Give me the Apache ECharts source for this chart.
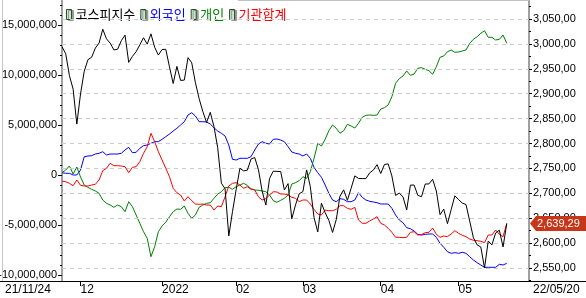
<!DOCTYPE html>
<html><head><meta charset="utf-8">
<script src="https://cdn.jsdelivr.net/npm/echarts@6/dist/echarts.min.js"></script>
<style>html,body{margin:0;padding:0;background:#fff}#c{width:586px;height:298px}</style>
</head><body><div id="c"></div>
<script>
const dates = [
'21/11/24','21/11/25','21/11/26','21/11/29','21/11/30',
'21/12/01','21/12/02','21/12/03','21/12/06','21/12/07','21/12/08','21/12/09','21/12/10','21/12/13','21/12/14','21/12/15','21/12/16','21/12/17','21/12/20','21/12/21','21/12/22','21/12/23','21/12/24','21/12/27','21/12/28','21/12/29','21/12/30',
'22/01/03','22/01/04','22/01/05','22/01/06','22/01/07','22/01/10','22/01/11','22/01/12','22/01/13','22/01/14','22/01/17','22/01/18','22/01/19','22/01/20','22/01/21','22/01/24','22/01/25','22/01/26','22/01/27','22/01/28',
'22/02/03','22/02/04','22/02/07','22/02/08','22/02/09','22/02/10','22/02/11','22/02/14','22/02/15','22/02/16','22/02/17','22/02/18','22/02/21','22/02/22','22/02/23','22/02/24','22/02/25','22/02/28',
'22/03/02','22/03/03','22/03/04','22/03/07','22/03/08','22/03/10','22/03/11','22/03/14','22/03/15','22/03/16','22/03/17','22/03/18','22/03/21','22/03/22','22/03/23','22/03/24','22/03/25','22/03/28','22/03/29','22/03/30','22/03/31',
'22/04/01','22/04/04','22/04/05','22/04/06','22/04/07','22/04/08','22/04/11','22/04/12','22/04/13','22/04/14','22/04/15','22/04/18','22/04/19','22/04/20','22/04/21','22/04/22','22/04/25','22/04/26','22/04/27','22/04/28','22/04/29',
'22/05/02','22/05/03','22/05/04','22/05/06','22/05/09','22/05/10','22/05/11','22/05/12','22/05/13','22/05/16','22/05/17','22/05/18','22/05/19','22/05/20'
];
const emptySlotsAfter = 6;
const monthTickDates = ['21/12/01','22/01/03','22/02/03','22/03/02','22/04/01','22/05/02'];
const monthTickLabels = ['12','2022','02','03','04','05'];
const edgeLabels = ['21/11/24','22/05/20'];
const leftLabelValues = [-10000000,-5000000,0,5000000,10000000,15000000];
const leftMinorValues = [-10000000,-9000000,-8000000,-7000000,-6000000,-5000000,-4000000,-3000000,-2000000,-1000000,0,1000000,2000000,3000000,4000000,5000000,6000000,7000000,8000000,9000000,10000000,11000000,12000000,13000000,14000000,15000000,16000000,17000000];
const rightLabelValues = [2550,2600,2650,2700,2750,2800,2850,2900,2950,3000,3050];
const rightMinorValues = [2525,2575,2625,2675,2725,2775,2825,2875,2925,2975,3025,3075];
const seriesNames = ['코스피지수','외국인','개인','기관합계'];

const kospi = [
2994.29,2980.27,2936.44,2909.32,2839.01,
2899.72,2945.27,2968.33,2973.25,2991.72,3001.80,3029.57,3010.23,3001.66,2987.95,2989.39,3006.41,3017.73,2963.00,2975.03,2984.48,2998.32,3012.43,2999.55,3020.24,2993.29,2977.65,
2988.77,2989.24,2953.97,2920.53,2954.89,2926.72,2927.38,2972.48,2962.09,2921.92,2890.10,2864.24,2842.28,2862.68,2834.29,2792.00,2720.39,2709.24,2614.49,2663.34,
2707.82,2750.26,2745.06,2746.47,2768.85,2771.93,2747.71,2704.48,2676.54,2729.68,2744.52,2744.09,2743.80,2706.79,2719.53,2648.80,2676.76,2699.18,
2703.52,2747.08,2713.43,2651.31,2622.40,2680.32,2661.28,2645.65,2621.53,2647.38,2694.51,2707.02,2686.05,2710.00,2735.05,2729.98,2729.66,2729.56,2741.07,2746.74,2757.65,
2739.85,2757.90,2759.20,2735.03,2695.86,2700.39,2693.10,2666.76,2716.49,2716.71,2696.06,2693.21,2718.69,2718.89,2728.21,2704.71,2657.13,2668.31,2639.06,2667.49,2695.05,
2687.45,2680.46,2677.57,2644.51,2610.81,2596.56,2592.27,2550.08,2604.24,2596.58,2620.44,2625.98,2592.34,2639.29
];
// cumulative net buying, in millions (x 1,000,000)
const foreign = [
0.23,0.17,0.17,0.0,0.0,
0.5,1.83,1.9,1.93,2.1,2.17,2.33,2.0,2.1,2.1,2.1,2.17,2.5,2.77,2.23,2.27,2.67,2.93,3.0,3.17,3.33,3.33,
3.57,3.83,4.1,4.4,4.67,5.0,5.33,6.0,6.23,5.9,5.33,5.33,5.3,5.1,4.73,4.4,4.17,3.9,3.0,1.57,
1.5,1.67,1.67,1.67,1.83,2.5,3.1,3.33,3.17,3.1,3.57,3.6,3.5,3.33,2.83,2.3,2.17,2.1,
1.9,2.1,1.67,0.77,0.23,-0.23,-1.0,-1.83,-2.5,-2.67,-2.37,-2.43,-2.67,-2.67,-2.5,-1.77,-2.23,-2.5,-2.63,-2.7,-2.77,
-2.9,-2.9,-2.9,-3.33,-4.0,-4.5,-4.77,-5.27,-5.37,-5.6,-5.93,-6.0,-5.93,-5.9,-5.9,-6.23,-6.83,-7.23,-7.67,-7.83,-7.77,
-7.83,-7.73,-7.83,-8.17,-8.5,-8.77,-9.0,-9.23,-9.23,-9.23,-9.23,-8.93,-9.0,-8.83
];
const individual = [
0.23,0.5,0.9,0.1,0.8,
-0.2,-1.0,-1.23,-1.43,-1.6,-1.83,-2.5,-2.83,-3.0,-3.23,-3.0,-3.17,-3.67,-2.67,-3.17,-4.0,-4.83,-5.67,-6.33,-8.17,-7.17,-5.67,
-5.1,-4.73,-4.17,-3.67,-3.4,-3.43,-3.1,-3.83,-4.33,-4.0,-3.23,-3.0,-2.83,-2.77,-2.33,-1.93,-1.67,-1.27,-1.23,-1.43,
-1.17,-1.0,-0.83,-1.03,-1.37,-1.5,-1.53,-1.6,-1.67,-2.0,-2.57,-2.73,-2.53,-2.33,-2.0,-0.9,-0.77,-0.57,
-0.17,-0.33,0.33,1.67,3.17,2.9,3.57,4.43,5.0,4.67,4.17,4.43,5.07,4.9,4.7,5.17,5.77,5.97,6.0,5.97,6.0,
6.6,6.73,7.0,7.83,9.17,9.63,9.9,10.4,9.97,10.1,10.67,10.73,10.57,10.43,10.07,10.83,11.77,11.9,12.33,12.5,12.27,
12.3,12.4,12.5,13.17,13.57,13.83,14.17,14.43,13.77,13.77,13.5,13.57,14.0,13.17
];
const institution = [
-0.6,-0.67,-0.83,-1.07,-0.5,
-1.03,-1.1,-1.1,-1.0,-0.93,-0.5,0.43,0.67,1.17,0.93,0.93,0.9,0.83,0.23,0.77,0.83,1.33,2.17,2.83,4.17,3.33,2.33,
1.5,0.67,-0.17,-1.33,-1.77,-2.0,-2.6,-2.17,-2.57,-2.9,-2.93,-2.9,-3.0,-3.0,-3.5,-3.1,-3.17,-2.17,-1.1,-0.83,
-0.77,-1.0,-1.33,-1.17,-1.43,-1.5,-2.17,-2.5,-2.37,-2.0,-1.67,-1.7,-1.9,-1.9,-2.0,-2.23,-2.33,-2.67,
-2.5,-2.5,-2.9,-3.43,-3.9,-4.0,-3.5,-3.57,-3.57,-3.43,-3.07,-3.07,-3.33,-3.43,-3.23,-4.5,-4.83,-4.83,-4.6,-4.4,-4.17,
-4.83,-5.0,-5.33,-5.73,-6.23,-6.23,-6.27,-6.23,-5.73,-5.67,-6.0,-5.97,-5.77,-5.73,-5.3,-5.93,-6.23,-6.1,-6.17,-5.9,-5.57,
-5.83,-6.03,-6.17,-6.4,-6.53,-6.57,-6.63,-6.77,-6.0,-6.0,-5.5,-5.93,-6.17,-4.83
];
const UNIT = 1000000;

const FONT = "'Liberation Sans',Arial,sans-serif";
const KR = "'Noto Sans CJK KR','Noto Sans CJK SC',sans-serif";

const categories = dates.concat(new Array(emptySlotsAfter).fill(''));
const tickIdx = {};
monthTickDates.forEach((d, k) => { tickIdx[dates.indexOf(d)] = monthTickLabels[k]; });
const isTick = (i) => tickIdx[i] !== undefined;

function fmtThousands(s){ return s.replace(/\B(?=(\d{3})+(?!\d))/g, ','); }
function fmtLeft(v){ const neg = v < 0; const s = fmtThousands(String(Math.abs(Math.round(v)))); return (neg ? '-' : '') + s; }
function fmtRight(v){ const p = v.toFixed(2).split('.'); return fmtThousands(p[0]) + ',' + p[1]; }

const chart = echarts.init(document.getElementById('c'), null, {renderer: 'canvas'});
const scale = (arr) => arr.map(v => v * UNIT);

const option = {
  animation: false,
  backgroundColor: '#fff',
  grid: {left: 62, right: 57, top: 0, bottom: 17, containLabel: false, outerBoundsMode: 'none'},
  legend: {
    left: 61, top: 3, itemWidth: 5, itemHeight: 10, itemGap: 5, icon: 'rect',
    selectedMode: false,
    itemStyle: {color: '#c4ecc4', borderColor: '#2e4a2e', borderWidth: 1, shadowColor: '#9a9a9a', shadowOffsetX: 2, shadowOffsetY: 1, shadowBlur: 0},
    textStyle: {fontSize: 13, fontFamily: KR, padding: [0, 0, 0, -1]},
    data: [
      {name: seriesNames[0], textStyle: {color: '#000'}},
      {name: seriesNames[1], textStyle: {color: '#0000ff'}},
      {name: seriesNames[2], textStyle: {color: '#008000'}},
      {name: seriesNames[3], textStyle: {color: '#ff0000'}}
    ]
  },
  xAxis: {
    type: 'category', data: categories, boundaryGap: false,
    axisLine: {show: true, onZero: false, lineStyle: {color: '#000', width: 1}},
    axisTick: {show: true, interval: (i) => isTick(i), length: 5, lineStyle: {color: '#000'}},
    axisLabel: {interval: (i) => isTick(i), formatter: (v, i) => tickIdx[i] || '', align: 'left', margin: 3,
      fontSize: 12, fontFamily: FONT, color: '#000', hideOverlap: false},
    splitLine: {show: false}
  },
  yAxis: [
    {type: 'value', position: 'left', min: -10600000, max: 17500000,
      axisLine: {show: true, lineStyle: {color: '#a0a0a0', width: 2}},
      axisTick: {show: true, customValues: leftLabelValues, length: 4, lineStyle: {color: '#000'}},
      axisLabel: {customValues: leftLabelValues, formatter: fmtLeft, margin: 5, fontSize: 11, fontFamily: FONT, color: '#000'},
      splitLine: {show: false}},
    {type: 'value', position: 'right', min: 2524, max: 3088.2,
      axisLine: {show: true, lineStyle: {color: '#a0a0a0', width: 2}},
      axisTick: {show: true, customValues: rightLabelValues, length: 3, lineStyle: {color: '#000'}},
      axisLabel: {customValues: rightLabelValues, formatter: fmtRight, margin: 4, fontSize: 11, fontFamily: FONT, color: '#000'},
      splitLine: {show: false}},
    {type: 'value', position: 'left', min: -10600000, max: 17500000,
      axisLine: {show: false},
      axisTick: {show: true, customValues: leftMinorValues, length: 2, lineStyle: {color: '#000'}},
      axisLabel: {show: false}, splitLine: {show: false}},
    {type: 'value', position: 'right', min: 2524, max: 3088.2,
      axisLine: {show: false},
      axisTick: {show: true, customValues: rightMinorValues, length: 2, lineStyle: {color: '#000'}},
      axisLabel: {show: false}, splitLine: {show: false}}
  ],
  series: [
    {name: 'grid-lines', type: 'line', yAxisIndex: 1, data: [], z: 1, silent: true,
      markLine: {silent: true, symbol: 'none', label: {show: false}, animation: false,
        lineStyle: {color: '#cccccc', type: [4, 4], width: 1},
        emphasis: {disabled: true},
        data: rightLabelValues.map(v => ({yAxis: v}))}},
    {name: seriesNames[0], type: 'line', yAxisIndex: 1, data: kospi, showSymbol: false, z: 6,
      lineStyle: {color: '#000', width: 1}, itemStyle: {color: '#000'}},
    {name: seriesNames[1], type: 'line', yAxisIndex: 0, data: scale(foreign), showSymbol: false, z: 3,
      lineStyle: {color: '#0000ff', width: 1}, itemStyle: {color: '#0000ff'}},
    {name: seriesNames[2], type: 'line', yAxisIndex: 0, data: scale(individual), showSymbol: false, z: 4,
      lineStyle: {color: '#008000', width: 1}, itemStyle: {color: '#008000'}},
    {name: seriesNames[3], type: 'line', yAxisIndex: 0, data: scale(institution), showSymbol: false, z: 5,
      lineStyle: {color: '#ff0000', width: 1}, itemStyle: {color: '#ff0000'}}
  ]
};
chart.setOption(option);

// annotations built from the library's scales
const last = kospi[kospi.length - 1];
const py = chart.convertToPixel({yAxisIndex: 1}, last);
const axisX = chart.convertToPixel({xAxisIndex: 0}, categories.length - 1);
const baseY = chart.convertToPixel({yAxisIndex: 0}, -10600000);
const topY = chart.convertToPixel({yAxisIndex: 0}, 17500000);
const W = chart.getWidth();
chart.setOption({
  graphic: [
    {type: 'line', shape: {x1: 2.5, y1: topY, x2: 2.5, y2: baseY}, style: {stroke: '#c8c8c8', lineWidth: 1}, z: 10},
    {type: 'line', shape: {x1: 238, y1: topY + 0.5, x2: axisX, y2: topY + 0.5}, style: {stroke: '#c0c0c0', lineWidth: 1}, z: 10},
    {type: 'line', shape: {x1: 0, y1: Math.round(baseY) + 0.5, x2: W, y2: Math.round(baseY) + 0.5}, style: {stroke: '#000', lineWidth: 1}, z: 10},
    {type: 'text', x: 5, y: Math.round(baseY) + 3, style: {text: edgeLabels[0], font: '12px ' + FONT, fill: '#000', textVerticalAlign: 'top'}, z: 10},
    {type: 'text', x: axisX + 4, y: Math.round(baseY) + 3, style: {text: edgeLabels[1], font: '12px ' + FONT, fill: '#000', textVerticalAlign: 'top'}, z: 10},
    {type: 'polygon', shape: {points: [[axisX + 1, py], [axisX + 7, py - 7.5], [W, py - 7.5], [W, py + 7.5], [axisX + 7, py + 7.5]]},
      style: {fill: '#c8361a'}, z: 20},
    {type: 'text', x: axisX + 8, y: py, style: {text: fmtRight(last), font: '11px ' + FONT, fill: '#fff', textVerticalAlign: 'middle'}, z: 21}
  ]
});
</script></body></html>
